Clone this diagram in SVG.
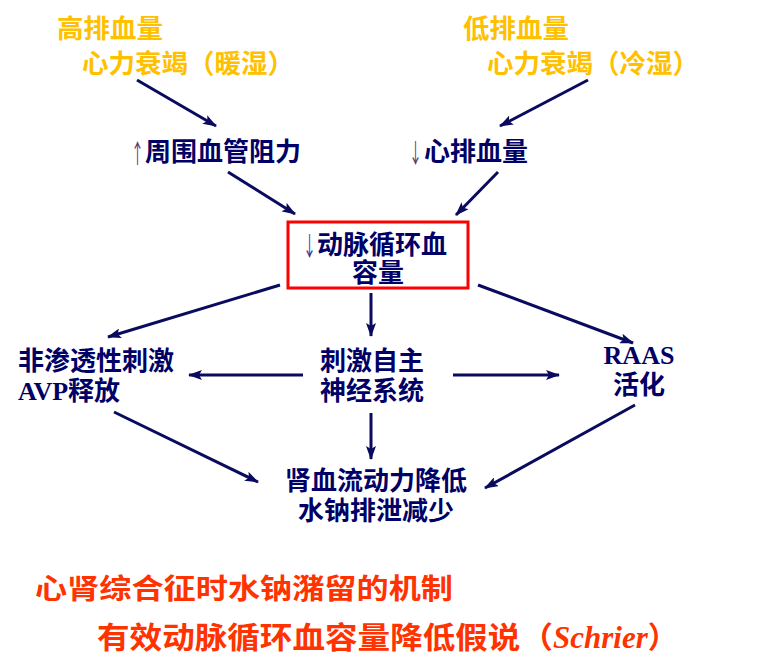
<svg xmlns="http://www.w3.org/2000/svg" width="772" height="662" viewBox="0 0 772 662">
<style>
.cj{font-family:"Noto Sans CJK SC","Noto Sans",sans-serif;font-weight:bold}
.y{fill:#FFC000;font-size:26.5px}
.n{fill:#000066;font-size:26px}
.r{fill:#FF3300;font-size:28px}
.ar{font-family:"Noto Sans CJK SC",sans-serif;font-size:26px}
.lat{font-family:"Liberation Serif",serif;font-weight:bold}
.conn line{stroke:#0A0A5E;stroke-width:3;marker-end:url(#ah)}
</style>
<defs>
<marker id="ah" viewBox="0 0 14 10" refX="13" refY="5" markerWidth="14" markerHeight="10" markerUnits="userSpaceOnUse" orient="auto">
<path d="M0,0 L14,5 L0,10 L3,5 z" fill="#0A0A5E"/>
</marker>
</defs>
<rect width="772" height="662" fill="#fff"/>
<g id="hi-output">
<text class="cj y" x="57" y="38">高排血量</text>
<text class="cj y" x="82" y="73">心力衰竭（暖湿）</text>
</g>
<g id="lo-output">
<text class="cj y" x="463" y="38">低排血量</text>
<text class="cj y" x="487" y="73">心力衰竭（冷湿）</text>
</g>
<g id="resistance">
<text class="ar" transform="translate(131,163) scale(0.5,1)" fill="#663366">↑</text>
<text class="cj n" x="145" y="161">周围血管阻力</text>
</g>
<g id="cardiac-output">
<text class="ar" transform="translate(409,163) scale(0.5,1)" fill="#663366">↓</text>
<text class="cj n" x="424" y="161">心排血量</text>
</g>
<g id="arterial-volume">
<rect x="288" y="222" width="180" height="66" fill="none" stroke="#FF0000" stroke-width="3"/>
<text class="ar" transform="translate(303,256) scale(0.5,1)" fill="#333399">↓</text>
<text class="cj n" x="317" y="254">动脉循环血</text>
<text class="cj n" x="378" y="282" text-anchor="middle">容量</text>
</g>
<g id="avp">
<text class="cj n" x="18" y="370">非渗透性刺激</text>
<text class="n" x="18" y="400"><tspan class="lat">AVP</tspan><tspan class="cj">释放</tspan></text>
</g>
<g id="sympathetic">
<text class="cj n" x="320" y="370">刺激自主</text>
<text class="cj n" x="320" y="400">神经系统</text>
</g>
<g id="raas">
<text class="lat n" x="639" y="364" text-anchor="middle" font-size="27">RAAS</text>
<text class="cj n" x="639" y="394" text-anchor="middle">活化</text>
</g>
<g id="renal">
<text class="cj n" x="376" y="490" text-anchor="middle">肾血流动力降低</text>
<text class="cj n" x="376" y="520" text-anchor="middle">水钠排泄减少</text>
</g>
<g id="title">
<text class="cj r" x="35" y="599" textLength="418" lengthAdjust="spacingAndGlyphs">心肾综合征时水钠潴留的机制</text>
<text class="r" x="97" y="648"><tspan class="cj" font-size="30" textLength="456" lengthAdjust="spacingAndGlyphs">有效动脉循环血容量降低假说（</tspan><tspan font-family="Liberation Serif,serif" font-style="italic" font-weight="bold" font-size="31">Schrier</tspan><tspan class="cj" font-size="30">）</tspan></text>
</g>
<g id="connectors" class="conn">
<line x1="137" y1="80" x2="216" y2="126"/>
<line x1="588" y1="80" x2="500" y2="126"/>
<line x1="228" y1="172" x2="295" y2="214"/>
<line x1="498" y1="172" x2="456" y2="215"/>
<line x1="280" y1="285" x2="108" y2="337"/>
<line x1="478" y1="285" x2="633" y2="343"/>
<line x1="371" y1="293" x2="371" y2="336"/>
<line x1="303" y1="375" x2="189" y2="375"/>
<line x1="453" y1="375" x2="559" y2="375"/>
<line x1="371" y1="413" x2="371" y2="459"/>
<line x1="114" y1="412" x2="258" y2="482"/>
<line x1="635" y1="405" x2="485" y2="488"/>
</g>
</svg>
